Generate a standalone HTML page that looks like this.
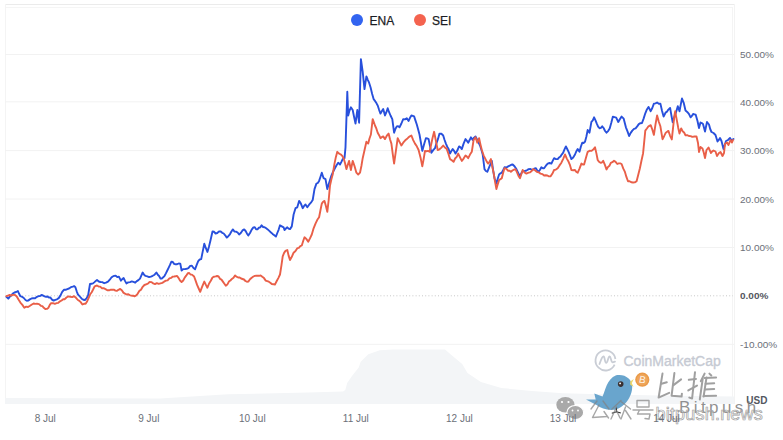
<!DOCTYPE html>
<html><head><meta charset="utf-8">
<style>
html,body{margin:0;padding:0;background:#fff;}
body{width:783px;height:440px;position:relative;overflow:hidden;font-family:"Liberation Sans",sans-serif;}
svg.chart{position:absolute;left:0;top:0;}
.yl{position:absolute;left:740px;font-size:10px;line-height:12px;color:#6c7079;white-space:nowrap;transform:scaleY(0.88);transform-origin:0 50%;}
.yl.zero{font-weight:bold;color:#55585f;}
.xl{position:absolute;top:412.8px;width:60px;text-align:center;font-size:10px;line-height:12px;color:#6c7079;white-space:nowrap;}
.leg{position:absolute;top:14.2px;font-size:12px;line-height:14px;color:#1b1d24;-webkit-text-stroke:0.25px #1b1d24;white-space:nowrap;}
.dot{position:absolute;top:13.5px;width:12.2px;height:12.2px;border-radius:50%;}
.usd{position:absolute;left:746.3px;top:395px;font-size:10px;line-height:12px;font-weight:bold;color:#53575f;}
</style></head><body>
<svg class="chart" width="783" height="440" viewBox="0 0 783 440">
<line x1="5" y1="4.5" x2="734" y2="4.5" stroke="#ebebeb" stroke-width="1"/>
<line x1="6" y1="7.5" x2="733" y2="7.5" stroke="#f5f5f5" stroke-width="1"/>
<line x1="5.5" y1="4" x2="5.5" y2="404" stroke="#f4f4f4" stroke-width="1"/>
<line x1="734.5" y1="4" x2="734.5" y2="404" stroke="#f3f3f3" stroke-width="1"/>
<line x1="732.5" y1="7" x2="732.5" y2="404" stroke="#f4f4f4" stroke-width="1"/>
<line x1="5" y1="54.5" x2="734" y2="54.5" stroke="#f2f2f2" stroke-width="1"/>
<line x1="5" y1="101.8" x2="734" y2="101.8" stroke="#f2f2f2" stroke-width="1"/>
<line x1="5" y1="150.6" x2="734" y2="150.6" stroke="#f2f2f2" stroke-width="1"/>
<line x1="5" y1="199" x2="734" y2="199" stroke="#f2f2f2" stroke-width="1"/>
<line x1="5" y1="247.5" x2="734" y2="247.5" stroke="#f2f2f2" stroke-width="1"/>
<line x1="5" y1="344.3" x2="734" y2="344.3" stroke="#f2f2f2" stroke-width="1"/>

<line x1="6" y1="295.8" x2="733" y2="295.8" stroke="#c8c8c8" stroke-width="1" stroke-dasharray="1 2.2"/>
<path d="M5 404 L5 398 L160 398.5 L200 396 L228 394.2 L308 392.6 L343 391.5 L345.3 390 L347.2 382.9 L352 376 L358.7 367.6 L360.7 361.8 L368.3 354.2 L379.8 350.3 L393.2 349.4 L445 349.4 L452.6 356 L462.2 364 L467.5 373 L480.9 382 L501.3 388 L532 391 L562.7 393.2 L600 394.2 L660 395.5 L734 396.5 L734 404 Z" fill="#f3f5f7"/>
<path d="M6.4 296.8 L8.3 298.7 L9.8 296.6 L11.3 295.4 L12.8 293.6 L14.5 292.5 L16.2 292.0 L17.9 291.0 L19.1 293.8 L20.4 296.2 L22.1 296.8 L23.8 298.0 L25.5 300.0 L26.8 300.8 L28.1 300.6 L29.8 299.4 L31.5 298.5 L33.2 298.1 L35.1 298.2 L37.0 296.8 L38.5 296.1 L40.0 296.1 L41.5 294.9 L43.0 295.5 L44.5 296.4 L46.0 296.8 L47.5 296.5 L48.9 297.5 L50.4 297.5 L52.0 299.6 L53.6 300.6 L55.3 299.8 L57.0 299.3 L58.7 298.1 L60.4 295.6 L62.2 291.9 L63.9 289.8 L65.6 289.8 L67.3 289.1 L69.0 288.5 L70.9 287.2 L72.8 286.6 L74.1 286.1 L75.4 287.2 L76.7 291.3 L77.9 294.3 L79.8 296.5 L81.7 298.7 L83.3 299.7 L84.9 300.0 L86.5 298.4 L88.1 295.5 L90.0 284.0 L91.5 283.7 L93.0 283.4 L94.5 282.1 L95.8 280.9 L97.0 280.0 L98.8 281.5 L100.5 282.0 L102.3 282.1 L104.2 283.2 L106.0 282.7 L108.0 281.6 L110.0 279.3 L111.4 277.5 L112.7 276.5 L114.1 275.9 L115.7 275.7 L117.3 277.1 L118.9 276.6 L120.9 280.7 L122.2 279.2 L123.6 278.0 L125.0 280.9 L126.4 283.4 L128.2 282.4 L130.0 282.1 L131.8 281.4 L133.5 281.9 L135.2 282.7 L136.8 281.1 L138.4 280.1 L140.0 278.6 L141.3 275.7 L142.7 272.5 L144.1 274.8 L145.5 275.9 L147.3 276.4 L149.1 277.1 L150.9 276.6 L152.7 275.8 L154.6 274.7 L156.4 272.5 L157.8 274.8 L159.1 276.0 L160.5 278.6 L161.8 278.5 L163.2 277.3 L164.6 275.8 L165.9 273.4 L167.3 270.5 L168.7 267.6 L170.0 264.9 L171.4 261.6 L172.8 262.0 L174.1 263.9 L175.5 264.3 L177.1 264.2 L178.7 263.5 L180.3 263.6 L181.6 270.5 L183.3 269.1 L185.0 269.1 L186.7 268.8 L188.4 268.2 L190.2 265.9 L191.9 265.7 L193.5 268.0 L195.1 269.3 L196.6 265.1 L198.2 261.1 L199.7 259.5 L201.2 259.1 L202.8 251.1 L204.3 243.7 L205.9 248.2 L207.4 251.9 L208.9 246.9 L210.4 240.7 L212.5 231.5 L214.1 231.8 L215.6 233.5 L217.3 233.0 L219.0 231.4 L220.7 231.5 L222.2 232.8 L223.7 233.5 L225.2 235.3 L226.8 237.6 L228.3 236.2 L229.9 234.3 L231.4 231.5 L232.9 229.4 L234.4 231.5 L236.0 231.6 L237.6 232.5 L239.1 234.5 L240.8 233.0 L242.5 230.4 L244.2 229.4 L245.6 231.0 L246.9 233.4 L248.3 235.6 L250.0 233.0 L251.7 229.6 L253.4 227.4 L254.8 227.3 L256.1 229.3 L257.5 229.4 L258.9 227.7 L260.2 227.4 L261.6 225.3 L263.1 227.0 L264.6 227.2 L266.2 228.3 L267.7 229.4 L269.3 230.9 L271.0 232.5 L272.6 233.9 L274.3 235.3 L275.9 236.6 L277.3 233.0 L278.6 229.8 L280.0 225.3 L281.8 226.3 L283.6 227.3 L284.5 230.0 L285.9 228.5 L287.3 227.3 L288.6 228.6 L290.0 229.1 L291.8 226.4 L293.6 214.5 L295.5 208.2 L297.3 207.3 L299.1 200.9 L300.9 203.6 L302.7 208.2 L304.1 205.9 L305.5 204.5 L307.3 207.3 L309.1 204.7 L310.9 202.7 L312.7 200.0 L314.5 189.1 L316.4 183.6 L317.8 183.0 L319.1 180.9 L320.5 176.8 L321.8 172.7 L323.6 178.2 L325.5 179.1 L327.3 189.1 L328.6 184.6 L330.0 180.0 L331.4 175.6 L332.7 172.7 L334.5 169.0 L336.4 165.5 L338.2 162.7 L340.0 164.5 L341.4 161.9 L342.7 159.1 L344.5 158.2 L345.5 147.3 L347.3 91.8 L348.2 115.5 L349.5 110.6 L350.9 107.3 L352.7 110.0 L354.1 117.0 L355.5 123.6 L357.3 110.0 L359.1 122.7 L360.9 59.1 L362.7 71.8 L364.5 89.1 L366.4 76.4 L367.8 79.8 L369.1 82.7 L370.6 87.5 L372.1 93.8 L373.6 99.1 L375.0 100.9 L376.4 103.1 L377.7 105.5 L379.1 109.8 L380.5 113.6 L381.9 111.1 L383.2 109.1 L385.0 115.5 L386.4 112.2 L387.7 108.2 L389.1 112.2 L390.5 115.5 L392.3 119.1 L394.1 132.7 L395.5 128.8 L396.8 126.4 L398.1 126.1 L399.5 127.3 L401.4 123.5 L403.2 119.1 L405.0 119.4 L406.8 118.2 L408.6 120.9 L410.0 117.8 L411.4 115.5 L412.8 115.9 L414.1 116.4 L415.5 120.6 L416.8 124.5 L418.1 129.2 L419.5 134.5 L420.9 142.5 L422.3 150.9 L424.1 144.3 L425.9 138.2 L427.2 138.4 L428.6 139.1 L430.0 146.1 L431.4 152.7 L433.2 150.1 L435.0 148.2 L436.5 143.1 L438.0 138.9 L439.5 133.6 L441.4 133.8 L443.2 135.5 L444.5 139.7 L445.9 143.6 L447.2 146.7 L448.6 149.1 L450.0 153.6 L451.4 151.0 L452.7 149.1 L454.1 150.9 L455.5 153.6 L457.3 150.5 L459.1 146.4 L460.5 147.3 L461.8 149.1 L463.6 143.6 L465.5 139.1 L466.9 140.8 L468.2 142.7 L469.5 140.3 L470.9 137.3 L472.7 140.0 L474.1 137.6 L475.5 136.4 L477.3 140.0 L478.6 142.5 L480.0 145.5 L481.4 149.7 L482.7 154.5 L484.5 169.1 L485.9 171.0 L487.3 171.8 L489.1 167.3 L490.5 164.0 L491.8 160.9 L493.1 170.1 L494.5 178.2 L496.4 183.6 L497.8 178.5 L499.1 174.5 L500.5 173.3 L501.8 172.7 L503.1 170.2 L504.5 167.3 L506.4 167.5 L508.2 166.4 L509.7 165.7 L511.2 164.7 L512.7 164.5 L514.5 166.2 L516.4 169.1 L518.2 172.8 L520.0 176.4 L521.4 173.2 L522.7 170.9 L524.2 171.1 L525.8 170.8 L527.3 170.0 L528.6 169.1 L530.5 169.0 L532.3 170.0 L534.1 168.7 L535.9 168.2 L537.2 170.5 L538.6 171.8 L540.0 169.8 L541.4 167.3 L542.8 168.2 L544.1 168.2 L545.9 165.7 L547.7 163.6 L549.5 163.0 L551.4 163.6 L552.8 160.6 L554.1 158.2 L555.9 159.1 L557.7 159.1 L559.1 157.4 L560.5 156.4 L561.9 154.3 L563.2 152.7 L564.5 149.4 L565.9 146.4 L567.2 149.0 L568.6 151.8 L570.0 155.3 L571.4 159.1 L573.2 157.5 L575.0 154.5 L576.4 151.2 L577.7 149.1 L579.5 151.8 L580.9 146.5 L582.3 142.7 L583.6 143.0 L585.0 141.8 L586.4 136.5 L587.7 130.0 L589.5 132.7 L591.4 121.8 L592.8 120.3 L594.1 117.3 L595.5 120.3 L596.8 123.6 L598.1 126.6 L599.5 128.2 L600.9 127.9 L602.2 126.3 L603.6 128.0 L605.1 131.0 L606.5 132.7 L608.1 131.1 L609.7 128.4 L611.3 122.8 L612.9 116.6 L614.5 117.1 L616.2 117.6 L618.3 122.0 L620.0 119.0 L621.6 116.6 L623.7 118.7 L625.9 127.3 L627.5 131.4 L629.1 136.0 L630.7 132.9 L632.3 130.6 L634.0 128.8 L635.6 128.4 L637.2 126.4 L638.8 124.1 L640.4 123.2 L642.0 123.0 L643.6 118.6 L645.3 113.3 L646.9 109.4 L648.5 106.9 L650.7 111.2 L652.3 108.0 L653.9 103.6 L655.5 103.4 L657.1 102.5 L658.8 103.7 L660.4 103.6 L662.0 110.7 L663.6 116.6 L665.8 112.3 L667.1 111.6 L668.4 109.6 L670.1 107.9 L671.4 115.3 L672.7 122.4 L674.0 117.8 L675.2 114.7 L676.5 110.8 L677.8 106.2 L679.5 111.3 L680.8 104.4 L682.0 98.5 L683.7 102.8 L685.5 110.5 L687.2 111.9 L688.9 113.9 L690.6 117.3 L691.9 115.9 L693.1 113.9 L694.4 114.3 L695.7 114.7 L697.5 121.0 L699.0 128.0 L700.5 122.5 L701.8 123.1 L703.0 124.0 L705.0 131.5 L707.0 122.0 L709.0 124.5 L710.2 129.0 L711.5 132.0 L713.5 133.0 L715.5 135.0 L717.5 141.5 L718.8 139.9 L720.0 138.0 L721.5 141.0 L723.5 149.0 L724.8 144.7 L726.0 141.0 L728.0 140.0 L730.0 138.0 L731.5 140.5 L733.5 139.0" fill="none" stroke="#2850dc" stroke-width="1.9" stroke-linejoin="round" stroke-linecap="round"/>
<path d="M6.4 296.2 L8.0 295.6 L9.6 295.0 L11.2 295.5 L12.8 294.9 L14.7 294.9 L16.6 296.2 L18.5 299.5 L20.4 302.6 L22.4 304.9 L24.3 307.7 L26.2 306.6 L28.1 307.0 L30.0 305.8 L31.9 304.5 L33.6 303.5 L35.3 303.9 L37.0 303.8 L39.0 304.1 L40.9 305.8 L42.4 306.2 L43.8 307.8 L45.3 309.0 L46.9 308.9 L48.5 307.7 L49.8 304.8 L51.1 303.2 L53.0 303.1 L54.9 303.8 L56.6 303.2 L58.3 302.8 L60.0 301.3 L61.6 300.5 L63.2 299.2 L64.8 299.2 L66.4 297.5 L68.3 296.4 L70.2 296.8 L72.2 297.1 L74.1 296.2 L76.0 297.8 L77.9 300.0 L79.4 300.9 L80.9 302.4 L82.4 304.5 L84.0 303.8 L85.6 303.8 L87.2 301.2 L88.8 297.5 L90.2 294.3 L91.7 292.2 L93.1 289.5 L94.5 286.6 L95.8 285.8 L97.0 285.5 L98.6 286.5 L100.2 286.6 L101.8 288.2 L103.6 288.2 L105.5 289.1 L107.3 290.2 L109.1 290.3 L110.9 289.7 L112.7 289.6 L114.1 289.7 L115.4 290.6 L116.8 290.9 L118.5 289.8 L120.2 288.9 L121.8 290.2 L123.4 292.6 L125.0 293.7 L126.7 294.5 L128.4 294.3 L130.1 295.3 L131.8 295.7 L133.2 295.7 L134.5 296.3 L135.9 295.7 L137.6 293.8 L139.3 290.9 L141.0 289.8 L142.7 286.8 L144.4 285.0 L146.1 284.3 L147.9 283.6 L149.6 282.0 L151.4 282.1 L153.2 283.4 L155.0 284.1 L156.8 283.1 L158.7 283.9 L160.5 283.4 L162.3 282.9 L164.1 281.7 L165.9 280.7 L167.6 280.3 L169.4 278.4 L171.1 277.9 L172.8 276.6 L174.2 276.5 L175.5 276.3 L176.9 275.9 L178.5 277.9 L180.0 280.5 L181.6 282.0 L183.2 280.5 L184.7 277.6 L186.2 275.7 L187.8 273.2 L189.2 273.0 L190.5 274.5 L191.9 274.6 L194.1 276.5 L195.6 280.6 L197.1 284.9 L198.7 288.5 L200.2 291.8 L201.6 288.1 L202.9 284.8 L204.3 281.6 L205.9 284.9 L207.4 287.7 L209.1 283.5 L210.8 280.8 L212.5 277.5 L214.0 276.7 L215.6 276.4 L217.1 276.0 L218.6 276.5 L220.0 278.8 L221.5 279.6 L222.9 281.6 L224.4 283.7 L225.8 285.7 L227.3 284.6 L228.9 281.6 L230.4 280.5 L231.9 278.9 L233.5 277.7 L235.0 275.4 L236.5 276.7 L238.1 277.5 L239.6 277.4 L241.1 278.5 L242.5 279.0 L244.0 279.5 L245.4 281.0 L246.9 281.7 L248.3 281.6 L250.0 279.3 L251.7 277.7 L253.4 276.5 L254.8 275.9 L256.3 275.6 L257.7 275.8 L259.2 275.8 L260.6 275.4 L262.3 276.8 L264.0 278.1 L265.7 280.6 L267.2 281.1 L268.8 281.7 L270.3 282.7 L271.8 284.0 L273.4 284.2 L274.9 284.6 L276.6 281.3 L278.3 278.1 L280.0 274.5 L281.4 265.7 L282.7 256.4 L284.1 252.9 L285.5 250.9 L287.3 250.0 L288.6 255.6 L290.0 260.0 L291.8 256.8 L293.6 252.7 L295.5 251.0 L297.3 248.2 L298.8 247.8 L300.3 246.2 L301.8 245.5 L303.1 241.2 L304.5 237.3 L306.4 238.9 L308.2 241.8 L310.0 238.4 L311.8 234.5 L313.6 228.3 L315.5 223.6 L317.3 219.8 L319.1 217.3 L320.5 210.0 L321.8 203.6 L323.1 201.7 L324.5 200.9 L325.9 206.1 L327.3 211.8 L328.7 200.0 L330.0 185.5 L331.4 179.3 L332.7 174.5 L334.5 163.6 L335.9 156.9 L337.3 151.8 L339.1 153.6 L340.9 154.5 L342.2 155.8 L343.6 158.2 L345.0 163.0 L346.4 169.1 L347.8 164.8 L349.1 160.9 L350.9 170.0 L352.7 160.9 L354.5 166.0 L356.4 172.7 L358.2 174.5 L360.0 172.7 L361.4 166.0 L362.7 158.2 L364.5 150.2 L366.4 141.8 L368.2 143.6 L369.5 138.5 L370.9 134.5 L372.7 119.1 L375.0 125.5 L376.4 128.7 L377.7 132.7 L379.1 135.2 L380.5 138.2 L381.9 137.1 L383.2 136.4 L385.0 139.1 L386.8 135.7 L388.6 133.6 L390.0 139.2 L391.4 143.6 L392.8 154.4 L394.1 163.6 L395.9 150.8 L397.7 138.2 L399.5 141.8 L401.4 145.5 L403.2 142.7 L405.0 140.6 L406.8 139.1 L408.3 137.6 L409.9 136.3 L411.4 135.5 L413.2 140.1 L415.0 143.6 L416.8 146.3 L418.6 150.0 L420.5 157.4 L422.3 166.4 L423.6 159.4 L425.0 150.9 L426.5 151.2 L428.0 150.9 L429.5 151.8 L431.0 145.2 L432.6 137.7 L434.1 131.8 L435.9 140.9 L437.7 150.0 L439.5 149.3 L441.4 147.6 L443.2 145.5 L445.0 147.6 L446.8 149.1 L448.4 153.7 L450.0 159.1 L451.8 160.2 L453.6 161.8 L455.1 158.5 L456.7 156.8 L458.2 153.6 L460.0 157.3 L461.8 160.9 L463.6 158.6 L465.5 155.5 L466.9 156.6 L468.2 158.2 L470.0 154.6 L471.8 151.8 L473.6 140.0 L475.5 137.3 L477.3 142.7 L479.1 138.2 L480.5 144.6 L481.8 150.0 L483.6 155.3 L485.5 159.1 L486.9 161.9 L488.2 163.6 L489.5 161.8 L490.9 159.1 L492.2 166.4 L493.6 172.7 L495.0 181.3 L496.4 189.1 L497.8 184.1 L499.1 180.0 L500.5 179.1 L501.8 178.2 L503.1 173.0 L504.5 168.2 L506.4 168.8 L508.2 170.9 L509.5 170.6 L510.9 171.8 L512.4 170.5 L514.0 169.6 L515.5 169.1 L517.0 172.4 L518.5 175.9 L520.0 178.2 L521.4 174.0 L522.7 170.0 L524.5 172.5 L526.4 173.6 L528.6 172.7 L530.1 172.3 L531.7 171.0 L533.2 169.1 L535.0 170.2 L536.8 171.8 L538.6 172.3 L540.5 173.6 L542.3 174.1 L544.1 175.5 L545.7 175.2 L547.3 175.5 L548.9 176.4 L550.5 176.4 L552.3 173.8 L554.1 170.0 L555.9 169.6 L557.7 168.2 L559.5 165.4 L561.4 162.7 L563.2 158.8 L565.0 154.5 L566.8 158.6 L568.6 161.8 L570.0 165.2 L571.4 170.0 L573.2 170.3 L575.0 170.0 L576.4 172.0 L577.7 172.7 L579.5 168.6 L581.4 163.6 L582.8 164.5 L584.1 164.5 L585.9 158.1 L587.7 151.8 L589.5 150.8 L591.4 150.9 L593.2 149.6 L595.0 147.3 L596.4 153.4 L597.7 160.0 L599.1 161.8 L600.5 162.7 L601.9 162.5 L603.2 160.8 L604.9 164.9 L606.5 169.4 L607.9 167.1 L609.4 165.8 L610.8 162.9 L612.4 162.2 L614.0 160.8 L615.6 161.9 L617.3 164.0 L618.7 163.4 L620.2 163.4 L621.6 164.0 L623.2 168.4 L624.8 171.6 L626.4 176.9 L628.0 181.3 L629.6 181.2 L631.3 182.3 L633.1 182.5 L634.8 182.4 L636.6 181.3 L638.2 175.1 L639.9 168.3 L641.5 160.5 L643.1 153.2 L645.3 130.6 L646.9 128.5 L648.5 126.3 L650.7 125.2 L652.3 129.5 L653.9 134.9 L655.5 124.4 L657.1 115.5 L658.8 121.7 L660.4 126.3 L662.5 139.2 L664.1 136.2 L665.8 132.7 L667.1 131.8 L668.4 130.9 L670.1 135.8 L671.8 139.4 L673.1 127.4 L674.4 115.6 L675.2 111.3 L676.9 120.7 L678.2 127.7 L679.5 133.5 L681.2 128.4 L682.6 131.2 L684.1 132.5 L685.5 135.2 L687.2 135.2 L688.9 136.0 L690.6 136.1 L692.3 136.9 L694.5 136.5 L696.5 136.5 L698.0 143.0 L699.0 152.0 L700.5 147.0 L702.5 148.5 L703.8 152.8 L705.0 158.0 L706.5 150.0 L708.5 147.5 L709.8 150.4 L711.0 153.0 L712.2 151.4 L713.5 150.5 L715.5 151.5 L717.0 156.0 L719.0 153.0 L720.5 152.0 L722.5 156.0 L724.0 153.0 L725.0 144.0 L727.0 142.5 L728.5 145.0 L730.5 140.0 L732.0 142.5 L733.0 140.0" fill="none" stroke="#e95f48" stroke-width="1.9" stroke-linejoin="round" stroke-linecap="round"/>
</svg>
<div class="dot" style="left:351px;background:#3264f0"></div>
<div class="leg" style="left:369.5px">ENA</div>
<div class="dot" style="left:413.7px;background:#f4634f"></div>
<div class="leg" style="left:432px">SEI</div>
<div class="yl" style="top:48.6px">50.00%</div>
<div class="yl" style="top:97.0px">40.00%</div>
<div class="yl" style="top:145.3px">30.00%</div>
<div class="yl" style="top:193.6px">20.00%</div>
<div class="yl" style="top:242.0px">10.00%</div>
<div class="yl" style="top:338.6px">-10.00%</div>
<div class="yl zero" style="top:290.3px">0.00%</div>

<div class="usd">USD</div>

<svg class="chart" width="783" height="440" viewBox="0 0 783 440">
<!-- CMC logo -->
<path d="M614.6 364.6 A10 10 0 1 1 615.4 359" fill="none" stroke="#c9cdd5" stroke-width="1.8"/>
<path d="M599.5 364 C601 360 602 356.3 603.5 356.5 C605 356.7 604.6 362.8 606.2 362.8 C607.8 362.8 608 356.5 609.6 356.5 C611 356.5 611 362.3 612.6 362.3 L615 361.6" fill="none" stroke="#c9cdd5" stroke-width="1.8" stroke-linejoin="round" stroke-linecap="round"/>
<!-- 比推 -->
<g fill="none" stroke="#a0a0a0" stroke-width="2.0" stroke-linecap="round" stroke-linejoin="round">
<path d="M662.5 373.6 L658.6 397.6 L669.2 392.8"/>
<path d="M661.5 383.7 L666.8 382.2"/>
<path d="M681.1 379.4 L673.5 385.1"/>
<path d="M674.4 373.1 L671.6 395.7 L681.6 396.6 L681.9 393.7"/>
<path d="M688.8 379.8 L696 378.9"/>
<path d="M695 372.2 L692.1 398.5 L689.3 397.6"/>
<path d="M688.3 390.4 L697 385.6"/>
<path d="M704.6 373.6 L700.8 381.3"/>
<path d="M702.7 378.9 L699.8 399.5"/>
<path d="M709.4 373.6 L711.3 375.5"/>
<path d="M706.5 377.5 L703.6 396.6"/>
<path d="M704.6 377.9 L716.1 377.5 M705.6 383.7 L714.2 383.2 M705.1 389.4 L714.2 389 M703.6 396.1 L716.1 395.7"/>
</g>
<!-- wechat -->
<ellipse cx="565.4" cy="404.7" rx="9.1" ry="7.7" fill="#a9a9a9"/>
<ellipse cx="575.3" cy="412.5" rx="8.4" ry="7" fill="#a9a9a9" stroke="#fff" stroke-width="1.2"/>
<circle cx="562" cy="402" r="1.1" fill="#fff"/><circle cx="568.5" cy="402" r="1.1" fill="#fff"/>
<circle cx="572.5" cy="410.5" r="0.9" fill="#fff"/><circle cx="578" cy="410.5" r="0.9" fill="#fff"/>
<!-- bird -->
<path d="M616.1 375.3 C625 373.6 631.8 379.1 632.2 385.9 C632.5 397 624 408 614 409.8 C607 410.5 601 408.5 596.5 405 L586 399.5 L595.7 399.5 L594.3 393.4 L602.5 396.5 C605.2 391.3 606.6 379.1 616.1 375.3 Z" fill="#69a5cd"/>
<path d="M630.2 381.5 L633.8 379 L631.8 383.2 L633.6 386.8 L630.2 384.8 Z" fill="#eed86a"/>
<circle cx="620.7" cy="384.1" r="2.8" fill="#3a3030"/>
<circle cx="620.1" cy="383.4" r="0.9" fill="#fff"/>
<path d="M616.5 407.5 L616.5 412 M611.8 413.2 L616.5 411.8 L620.8 413" fill="none" stroke="#2a2a2a" stroke-width="1.1"/>
<!-- 公众号 -->
<g fill="none" stroke="rgba(130,130,130,0.7)" stroke-width="1.4" stroke-linecap="round" stroke-linejoin="round">
<path d="M597 401 L591 409 M603 401 L609 409 M599 405 L592.5 417.5 L607 416.5 M604 411.5 L608.5 418"/>
<path d="M621 400.5 L612 409 M621 401.5 L630.5 409 M616.5 407 L611 419 M616.5 410.5 L620 418 M625.5 407 L621 419 M625.5 410.5 L631 419"/>
<path d="M637 400.5 L649 400.5 L649 407 L637 407 Z M633 410 L653 410 M639.5 410 L637.5 414 L650 414 L649 419 L645 418.5"/>
</g>
<!-- bitcoin -->
<circle cx="642.3" cy="379.7" r="7.1" fill="#ea9a48"/><circle cx="642.3" cy="379.7" r="5.6" fill="#eea55a"/>
</svg>
<div style="position:absolute;left:639px;top:373.8px;font-size:10px;line-height:12px;color:rgba(255,255,255,0.9);transform:rotate(12deg);">B</div>
<div style="position:absolute;left:623.5px;top:352.5px;font-size:14px;line-height:16px;color:#c6cad3;-webkit-text-stroke:0.35px #c6cad3;white-space:nowrap;">CoinMarketCap</div>
<div style="position:absolute;left:679px;top:398px;font-size:17px;line-height:20px;color:rgba(125,125,125,0.85);letter-spacing:3.4px;white-space:nowrap;">Bitpush</div>
<div style="position:absolute;left:655.5px;top:403.5px;font-size:18px;letter-spacing:0.2px;line-height:20px;color:rgba(255,255,255,0.2);-webkit-text-stroke:0.7px #a0a0a0;white-space:nowrap;">bitpush.news</div>

<div class="xl" style="left:15.2px">8 Jul</div>
<div class="xl" style="left:118.8px">9 Jul</div>
<div class="xl" style="left:222.3px">10 Jul</div>
<div class="xl" style="left:325.8px">11 Jul</div>
<div class="xl" style="left:429.4px">12 Jul</div>
<div class="xl" style="left:533.0px">13 Jul</div>
<div class="xl" style="left:636.5px">14 Jul</div>

</body></html>
